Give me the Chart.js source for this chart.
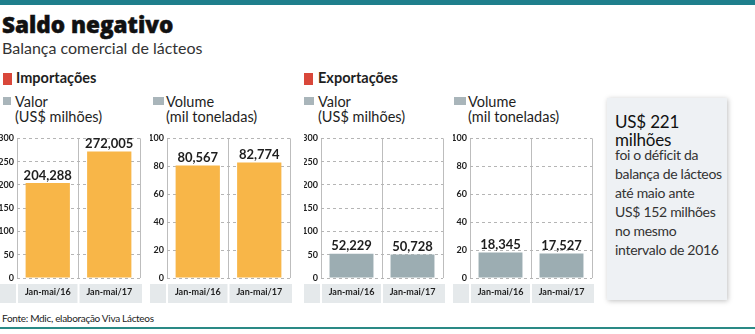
<!DOCTYPE html>
<html>
<head>
<meta charset="utf-8">
<script src="https://cdn.jsdelivr.net/npm/chart.js@4"></script>
<style>
  html, body { margin: 0; padding: 0; background: #fff; }
  body { width: 755px; height: 334px; position: relative; overflow: hidden; font-family: Lato, "Noto Sans", sans-serif; color: #1e1e1e; }
  .t { position: absolute; white-space: nowrap; line-height: 1; }
  .sq { position: absolute; }
  .cw { position: absolute; }
  .bx { font-size: 14px; letter-spacing: -0.3px; color: #333; left: 615px; }
</style>
</head>
<body>
<div style="position:absolute;left:0;top:0;width:755px;height:5px;background:#1f7f8c"></div>
<div class="t" style="left:2px;top:13.5px;font-family:'Open Sans',Lato,sans-serif;font-size:22.5px;font-weight:800;color:#111;-webkit-text-stroke:0.5px #111">Saldo negativo</div>
<div class="t" style="left:2px;top:39.5px;font-size:16px;font-weight:400;color:#333">Balança comercial de lácteos</div>

<div class="sq" style="left:3px;top:73px;width:9px;height:12px;background:#d9473a"></div>
<div class="t" style="left:16px;top:71px;font-size:14.5px;font-weight:700">Importações</div>
<div class="sq" style="left:3px;top:97px;width:8px;height:8px;background:#a9b5ba"></div>
<div class="t" style="left:15px;top:94.5px;font-size:14.5px">Valor</div>
<div class="t" style="left:15px;top:109.5px;font-size:14.5px">(US$ milhões)</div>
<div class="sq" style="left:153px;top:97px;width:11px;height:8px;background:#a9b5ba"></div>
<div class="t" style="left:166px;top:94.5px;font-size:14.5px">Volume</div>
<div class="t" style="left:166px;top:109.5px;font-size:14.5px">(mil toneladas)</div>

<div class="sq" style="left:304px;top:73px;width:9px;height:12px;background:#d9473a"></div>
<div class="t" style="left:318px;top:71px;font-size:14.5px;font-weight:700">Exportações</div>
<div class="sq" style="left:304px;top:97px;width:10px;height:8px;background:#a9b5ba"></div>
<div class="t" style="left:318px;top:94.5px;font-size:14.5px">Valor</div>
<div class="t" style="left:318px;top:109.5px;font-size:14.5px">(US$ milhões)</div>
<div class="sq" style="left:454px;top:97px;width:12px;height:8px;background:#a9b5ba"></div>
<div class="t" style="left:468px;top:94.5px;font-size:14.5px">Volume</div>
<div class="t" style="left:468px;top:109.5px;font-size:14.5px">(mil toneladas)</div>

<div class="cw" id="w1" style="left:0px;top:130px;width:145px;height:176px"><canvas id="c1"></canvas></div>
<div class="cw" id="w2" style="left:150px;top:130px;width:145px;height:176px"><canvas id="c2"></canvas></div>
<div class="cw" id="w3" style="left:304px;top:130px;width:144px;height:176px"><canvas id="c3"></canvas></div>
<div class="cw" id="w4" style="left:453px;top:130px;width:144px;height:176px"><canvas id="c4"></canvas></div>

<div style="position:absolute;left:607px;top:98px;width:120px;height:202px;background:#eef1f4;box-shadow:1px 1px 5px rgba(0,0,0,0.25)"></div>
<div class="t" style="left:615px;top:112.5px;font-size:17px;letter-spacing:-0.2px;color:#111">US$ 221</div>
<div class="t" style="left:615px;top:130.5px;font-size:17px;letter-spacing:-0.2px;color:#111">milhões</div>
<div class="t bx" style="top:148px">foi o déficit da</div>
<div class="t bx" style="top:167px">balança de lácteos</div>
<div class="t bx" style="top:186px">até maio ante</div>
<div class="t bx" style="top:205px">US$ 152 milhões</div>
<div class="t bx" style="top:224px">no mesmo</div>
<div class="t bx" style="top:243px">intervalo de 2016</div>

<div class="t" style="left:2px;top:312.5px;font-size:10px;letter-spacing:-0.3px;color:#222">Fonte: Mdic, elaboração Viva Lácteos</div>
<div style="position:absolute;left:0;top:327px;width:755px;height:2px;background:#2a8a86"></div>

<script>
const categories = ["Jan-mai/16", "Jan-mai/17"];
const impValor = [204.288, 272.005];
const impVolume = [80.567, 82.774];
const expValor = [52.229, 50.728];
const expVolume = [18.345, 17.527];
const valorTicks = { min: 0, max: 300, step: 50 };
const volumeTicks = { min: 0, max: 100, step: 20 };
const orange = "#f8b648";
const grey = "#9cadb2";

const bandPlugin = {
  id: "band",
  beforeDraw(chart) {
    const { ctx, chartArea } = chart;
    const xs = chart.scales.x;
    const top = xs.top + 6, h = 19;
    ctx.save();
    ctx.fillStyle = "#e5e9eb";
    ctx.fillRect(0, top, chartArea.right + 2, h);
    ctx.fillStyle = "#ffffff";
    ctx.fillRect(chartArea.left - 1, top, 2, h);
    const mid = (chartArea.left + chartArea.right) / 2;
    ctx.fillRect(mid - 1, top, 2, h);
    ctx.restore();
  }
};

const labelPlugin = {
  id: "vals",
  afterDatasetsDraw(chart) {
    const { ctx } = chart;
    const meta = chart.getDatasetMeta(0);
    const data = chart.data.datasets[0].data;
    ctx.save();
    ctx.font = "700 13px Lato, sans-serif";
    ctx.fillStyle = "#1e1e1e";
    ctx.textAlign = "center";
    ctx.textBaseline = "bottom";
    meta.data.forEach((bar, i) => {
      ctx.fillText(data[i].toFixed(3).replace(".", ","), bar.x, bar.y - 1);
    });
    ctx.restore();
  }
};

function makeChart(id, values, color, t) {
  return new Chart(document.getElementById(id), {
    type: "bar",
    data: {
      labels: categories,
      datasets: [{ data: values, backgroundColor: color, borderWidth: 0, barPercentage: 0.72, categoryPercentage: 1 }]
    },
    options: {
      responsive: true,
      maintainAspectRatio: false,
      animation: false,
      events: [],
      layout: { padding: { top: 7, right: 5, bottom: 0, left: 0 } },
      plugins: { legend: { display: false }, tooltip: { enabled: false } },
      scales: {
        x: {
          offset: true,
          afterFit(s) { s.height = 28; },
          grid: { offset: true, color: "#bdbdbd", lineWidth: 1, drawTicks: false },
          border: { display: false },
          ticks: { font: { family: "Lato", size: 9, weight: "700" }, color: "#1e1e1e", padding: 9, maxRotation: 0 }
        },
        y: {
          min: t.min, max: t.max,
          afterFit(s) { s.width = 17; },
          grid: { color: "#b5b5b5", lineWidth: 1, drawTicks: false },
          border: { display: false, dash: [3, 3] },
          ticks: { stepSize: t.step, font: { family: "Lato", size: 9, weight: "700" }, color: "#1e1e1e", padding: 3 }
        }
      }
    },
    plugins: [bandPlugin, labelPlugin]
  });
}

makeChart("c1", impValor, orange, valorTicks);
makeChart("c2", impVolume, orange, volumeTicks);
makeChart("c3", expValor, grey, valorTicks);
makeChart("c4", expVolume, grey, volumeTicks);
</script>
</body>
</html>
